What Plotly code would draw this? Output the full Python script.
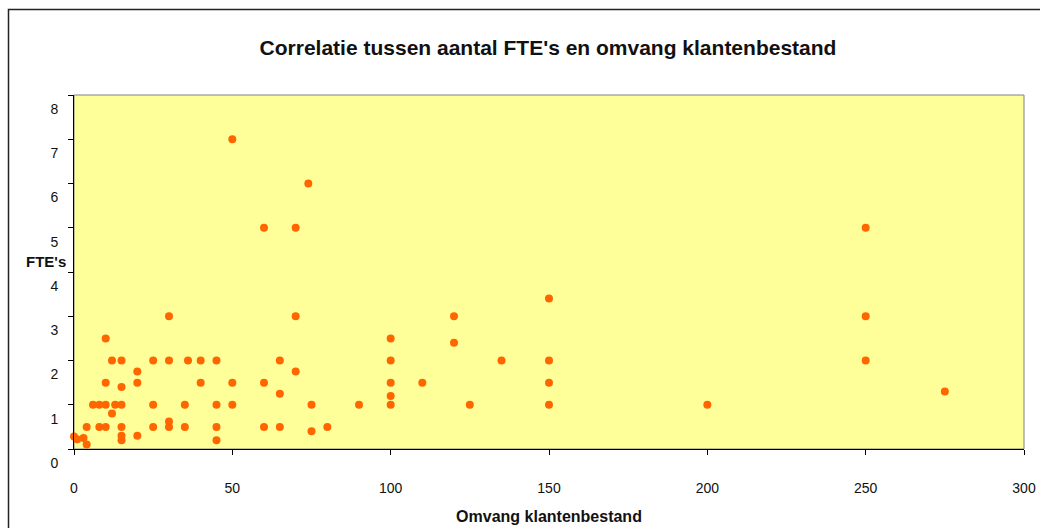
import plotly.graph_objects as go

# Data
klanten = [0, 1, 3, 4, 4, 6, 8, 8, 10, 10, 10, 10, 12, 12, 13, 15, 15, 15, 15, 15, 15,
           20, 20, 20, 25, 25, 25, 30, 30, 30, 30, 35, 35, 36, 40, 40, 45, 45, 45, 45,
           50, 50, 50, 60, 60, 60, 65, 65, 65, 70, 70, 70, 74, 75, 75, 80, 90,
           100, 100, 100, 100, 100, 110, 120, 120, 125, 135, 150, 150, 150, 150,
           200, 250, 250, 250, 275]
fte = [0.28, 0.22, 0.25, 0.1, 0.5, 1, 1, 0.5, 1, 0.5, 1.5, 2.5, 0.8, 2, 1, 1, 0.5, 0.3, 0.2, 1.4, 2,
       0.3, 1.5, 1.75, 0.5, 1, 2, 0.5, 0.62, 2, 3, 0.5, 1, 2, 1.5, 2, 0.5, 0.2, 1, 2,
       1, 1.5, 7, 1.5, 0.5, 5, 0.5, 1.25, 2, 1.75, 3, 5, 6, 1, 0.4, 0.5, 1,
       1, 1.2, 1.5, 2, 2.5, 1.5, 3, 2.4, 1, 2, 3.4, 2, 1.5, 1,
       1, 5, 3, 2, 1.3]

x_ticks = [0, 50, 100, 150, 200, 250, 300]
y_ticks = [0, 1, 2, 3, 4, 5, 6, 7, 8]

title_text = "Correlatie tussen aantal FTE's en omvang klantenbestand"
x_title = "Omvang klantenbestand"
y_title = "FTE's"

FONT = "Arial, 'Liberation Sans', sans-serif"

W, H = 1040, 528
L, R, T, B = 74, 16, 95, 79
pw, ph = W - L - R, H - T - B

def px_to_paper_x(px):
    return (px - L) / pw

def px_to_paper_y(py):
    return (H - B - py) / ph

fig = go.Figure()
fig.add_trace(go.Scatter(
    x=klanten, y=fte, mode="markers",
    marker=dict(color="#FF6600", size=8, line=dict(width=0)),
    showlegend=False, hoverinfo="x+y", cliponaxis=False,
))

fig.update_layout(
    width=W, height=H,
    margin=dict(l=L, r=R, t=T, b=B, pad=0, autoexpand=False),
    paper_bgcolor="white",
    plot_bgcolor="#FFFF99",
    font=dict(family=FONT, size=14, color="#111111"),
    title=dict(text="<b>" + title_text + "</b>", x=px_to_paper_x(548), xref="paper",
               xanchor="center", y=1 - 48 / H, yanchor="middle",
               font=dict(size=21, family=FONT, color="#111111")),
    xaxis=dict(range=[0, 300], tickvals=x_ticks, ticks="outside", ticklen=5,
               tickcolor="#000000", showgrid=False, zeroline=False, automargin=False,
               showline=True, linecolor="#000000", linewidth=1,
               ticklabelstandoff=21,
               tickfont=dict(size=14, family=FONT, color="#111111"),
               title=dict(text="<b>" + x_title + "</b>", standoff=16,
                          font=dict(size=16, family=FONT, color="#111111"))),
    yaxis=dict(range=[0, 8], tickvals=y_ticks, ticks="outside", ticklen=5,
               tickcolor="#000000", showgrid=False, zeroline=False, automargin=False,
               showline=True, linecolor="#000000", linewidth=1,
               ticklabelshift=14, ticklabelstandoff=7,
               tickfont=dict(size=14, family=FONT, color="#111111")),
    shapes=[
        # plot area border (gray)
        dict(type="rect", xref="paper", yref="paper", x0=0, x1=1, y0=0, y1=1,
             line=dict(color="#808080", width=1), layer="below"),
        # chart area border
        dict(type="rect", xref="paper", yref="paper",
             x0=px_to_paper_x(8.5), x1=px_to_paper_x(1060),
             y0=px_to_paper_y(560), y1=px_to_paper_y(9.5),
             line=dict(color="#222222", width=1.5)),
    ],
    annotations=[
        dict(text="<b>" + y_title + "</b>", xref="paper", yref="paper",
             x=px_to_paper_x(68), y=px_to_paper_y(261), xanchor="right", yanchor="middle",
             showarrow=False, font=dict(size=15, family=FONT, color="#111111")),
    ],
)

fig.write_html("out.html", config={"displayModeBar": False},
               post_script="document.body.style.margin='0px';document.body.style.overflow='hidden';")
